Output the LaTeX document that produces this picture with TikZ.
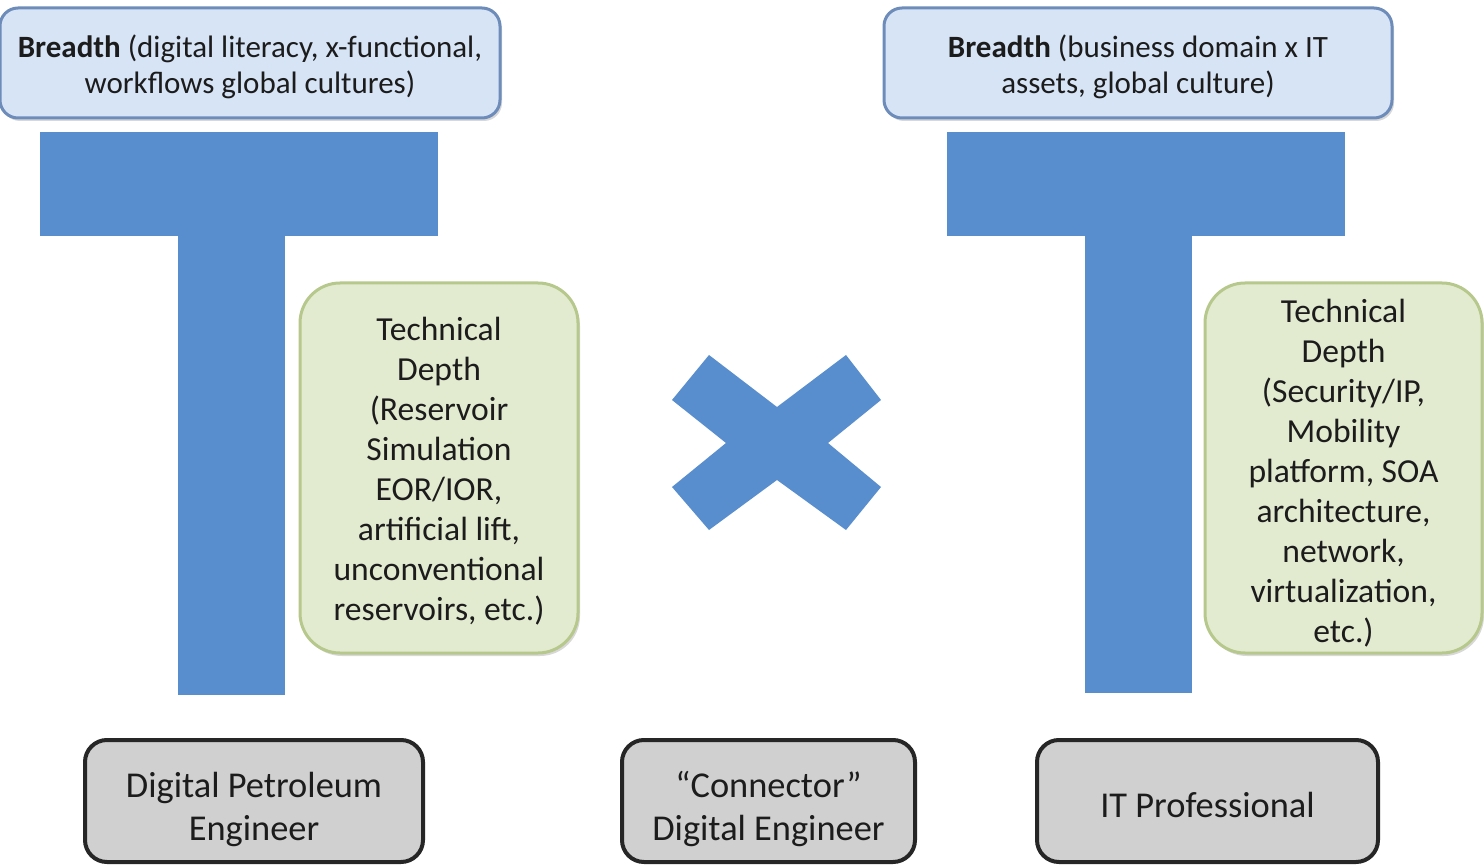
\documentclass[tikz,border=0pt]{standalone}
\usepackage{fontspec}
\setmainfont{Carlito}
\usetikzlibrary{shadows}
\definecolor{tblue}{RGB}{88,142,205}
\definecolor{bfill}{RGB}{214,228,246}
\definecolor{bdraw}{RGB}{110,140,185}
\definecolor{gfill}{RGB}{226,235,208}
\definecolor{gdraw}{RGB}{182,200,140}
\definecolor{kfill}{RGB}{208,208,208}
\definecolor{txt}{RGB}{28,28,28}
\tikzset{
  breadthbox/.style={draw=bdraw, line width=1.5pt, fill=bfill, rounded corners=9pt, inner sep=0pt,
    drop shadow={shadow xshift=1pt, shadow yshift=-1.5pt, opacity=0.3}},
  depthbox/.style={draw=gdraw, line width=1.5pt, fill=gfill, rounded corners=20pt, inner sep=0pt,
    drop shadow={shadow xshift=1pt, shadow yshift=-1.5pt, opacity=0.3}},
  rolebox/.style={draw=black!85, line width=2pt, fill=kfill, rounded corners=11pt, inner sep=0pt, minimum height=61pt},
  breadthtext/.style={align=center, text=txt, font=\fontsize{15.5}{18}\selectfont, inner sep=0pt},
  depthtext/.style={align=center, text=txt, font=\fontsize{16.8}{20}\selectfont, inner sep=0pt},
  roletext/.style={align=center, text=txt, font=\fontsize{18.2}{21.5}\selectfont, inner sep=0pt},
  tbar/.style={fill=tblue, draw=none}
}
\begin{document}
\begin{tikzpicture}[x=0.5pt, y=-0.5pt]
\useasboundingbox[fill=white] (0,0) rectangle (1484,866);
% T shapes
\fill[tbar] (40,132) rectangle (438,236);
\fill[tbar] (178,236) rectangle (285,695);
\fill[tbar] (947,132) rectangle (1345,236);
\fill[tbar] (1085,236) rectangle (1192,693);
% X
\fill[tbar] (709,355) -- (777,407) -- (846,355) -- (881,400) -- (828,443) -- (881,487)
  -- (846,530) -- (777,480) -- (709,530) -- (672,487) -- (726,443) -- (672,400) -- cycle;
% breadth boxes
\node[breadthbox, minimum width=250pt, minimum height=55pt] (bl) at (250,63) {};
\node[breadthtext, yshift=-2pt] (blt) at (bl.center)
  {\textbf{Breadth} (digital literacy, x-functional,\\workflows global cultures)};
\node[breadthbox, minimum width=254pt, minimum height=55pt] (br) at (1138,63) {};
\node[breadthtext, yshift=-2pt] (brt) at (br.center)
  {\textbf{Breadth} (business domain x IT\\assets, global culture)};
% depth boxes
\node[depthbox, minimum width=139pt, minimum height=185pt] (dl) at (439,468) {};
\node[depthtext, yshift=-1.5pt] (dlt) at (dl.center)
  {Technical\\Depth\\(Reservoir\\Simulation\\EOR/IOR,\\artificial lift,\\unconventional\\reservoirs, etc.)};
\node[depthbox, minimum width=138.5pt, minimum height=185pt] (dr) at (1343.5,468) {};
\node[depthtext, yshift=-2.5pt] (drt) at (dr.center)
  {Technical\\Depth\\(Security/IP,\\Mobility\\platform, SOA\\architecture,\\network,\\virtualization,\\etc.)};
% role boxes
\node[rolebox, minimum width=169pt] (rl) at (254,801) {};
\node[roletext, yshift=-4pt] (rlt) at (rl.center) {Digital Petroleum\\Engineer};
\node[rolebox, minimum width=146.5pt] (rm) at (768.5,801) {};
\node[roletext, yshift=-4pt] (rmt) at (rm.center) {“Connector”\\Digital Engineer};
\node[rolebox, minimum width=170.5pt] (rr) at (1207.5,801) {};
\node[roletext, yshift=-2pt] (rrt) at (rr.center) {IT Professional};
\end{tikzpicture}
\end{document}
